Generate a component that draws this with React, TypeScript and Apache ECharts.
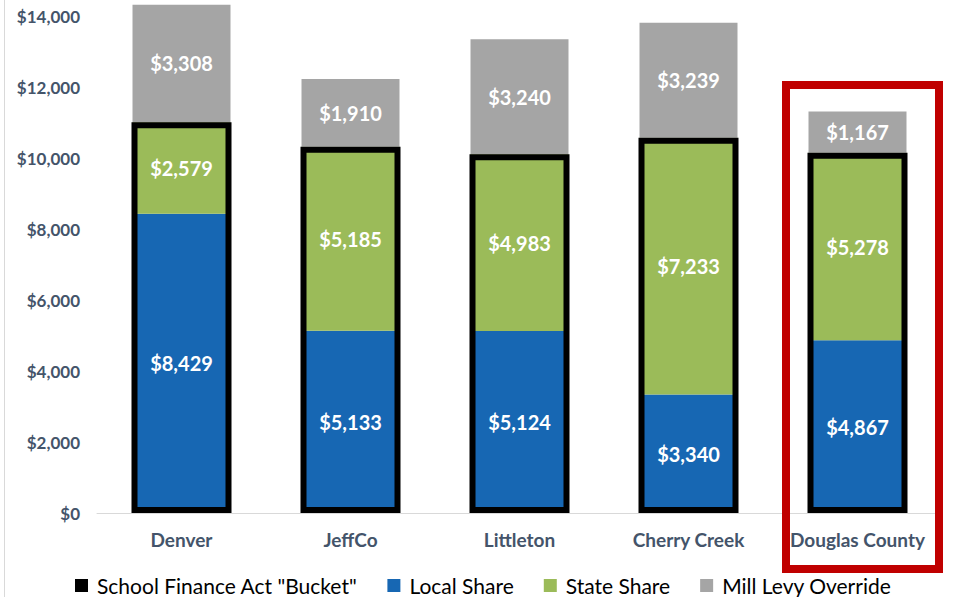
import React, { useEffect, useRef } from "react";
import * as echarts from "echarts";

const categories = ["Denver", "JeffCo", "Littleton", "Cherry Creek", "Douglas County"];
const localShare = [8429, 5133, 5124, 3340, 4867];
const stateShare = [2579, 5185, 4983, 7233, 5278];
const millLevy = [3308, 1910, 3240, 3239, 1167];
const yTicks = { min: 0, max: 14000, interval: 2000 };

const BUCKET = 'School Finance Act "Bucket"';
const fmt = (v: number) => "$" + v.toLocaleString("en-US");

export default function App() {
  const ref = useRef<HTMLDivElement>(null);
  useEffect(() => {
    document.body.style.margin = "0";
    const chart = echarts.init(ref.current!, null, { renderer: "svg" });
    const bucket = localShare.map((v, i) => v + stateShare[i]);
    const font = "Lato, 'Open Sans', sans-serif";
    const label = {
      show: true,
      position: "inside",
      color: "#fff",
      fontWeight: "bold",
      fontSize: 20,
      fontFamily: font,
      formatter: (p: any) => fmt(p.value),
    };
    chart.setOption({
      animation: false,
      grid: { left: 97, right: 13, top: 16, bottom: 84, containLabel: false },
      legend: {
        left: 75,
        top: 575,
        padding: 0,
        itemWidth: 13,
        itemHeight: 13,
        itemGap: 30,
        icon: "rect",
        textStyle: { fontSize: 21, fontFamily: font, color: "#000", padding: [0, 0, 0, 4] },
        data: [
          { name: BUCKET, itemStyle: { color: "#000", borderWidth: 0 } },
          { name: "Local Share" },
          { name: "State Share" },
          { name: "Mill Levy Override" },
        ],
      },
      xAxis: [
        {
          type: "category",
          data: categories,
          axisLine: { lineStyle: { color: "#D9D9D9", width: 1 } },
          axisTick: { show: false },
          axisLabel: {
            interval: 0,
            color: "#44546A",
            fontWeight: "bold",
            fontSize: 19,
            fontFamily: font,
            margin: 17,
          },
        },
        { type: "category", data: categories, show: false },
      ],
      yAxis: {
        type: "value",
        min: yTicks.min,
        max: yTicks.max,
        interval: yTicks.interval,
        splitLine: { show: false },
        axisLine: { show: false },
        axisTick: { show: false },
        axisLabel: {
          color: "#44546A",
          fontWeight: "bold",
          fontSize: 17,
          fontFamily: font,
          margin: 17,
          formatter: (v: number) => fmt(v),
        },
      },
      series: [
        {
          name: "Local Share",
          type: "bar",
          stack: "a",
          barWidth: 98,
          clip: false,
          data: localShare,
          itemStyle: { color: "#1767B3" },
          label,
        },
        {
          name: "State Share",
          type: "bar",
          stack: "a",
          barWidth: 98,
          clip: false,
          data: stateShare,
          itemStyle: { color: "#9BBB59" },
          label,
        },
        {
          name: "Mill Levy Override",
          type: "bar",
          stack: "a",
          barWidth: 98,
          clip: false,
          data: millLevy,
          itemStyle: { color: "#A5A5A5" },
          label,
        },
        {
          name: BUCKET,
          type: "bar",
          xAxisIndex: 1,
          barWidth: 100,
          clip: false,
          z: 5,
          data: bucket,
          itemStyle: { color: "rgba(0,0,0,0)", borderColor: "#000", borderWidth: 6 },
          label: { show: false },
        },
      ],
      graphic: [
        {
          type: "line",
          shape: { x1: 4.5, y1: 0, x2: 4.5, y2: 597 },
          style: { stroke: "#D9D9D9", lineWidth: 1 },
          silent: true,
        },
        {
          type: "rect",
          shape: { x: 786, y: 85, width: 153, height: 484 },
          style: { fill: "none", stroke: "#C00000", lineWidth: 8 },
          z: 10,
          silent: true,
        },
      ],
    });
    return () => chart.dispose();
  }, []);
  return (
    <div
      ref={ref}
      style={{ position: "absolute", left: 0, top: 0, width: 955, height: 597 }}
    />
  );
}
